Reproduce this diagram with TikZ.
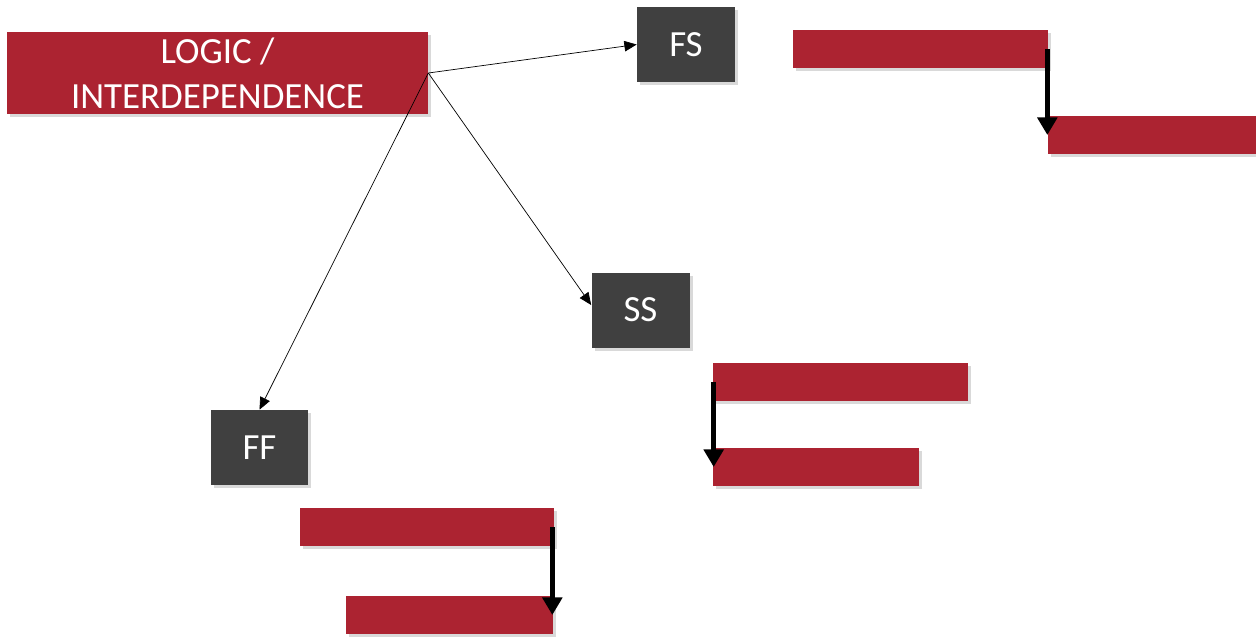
\documentclass[tikz,border=0pt]{standalone}
\usepackage{fontspec}
\setmainfont{Carlito}
\usepackage{xcolor}
\usetikzlibrary{positioning, arrows.meta, shadows}
\definecolor{LogicRed}{HTML}{AC2331}
\definecolor{BoxGray}{HTML}{404040}

\begin{document}
\begin{tikzpicture}[
            x=0.02cm, y=-0.02cm,
            shade/.style={drop shadow={opacity=0.3, shadow xshift=0.06cm, shadow yshift=-0.06cm}},
            logic/.style={fill=LogicRed, shade, text=white, minimum width=8.42cm, minimum height=1.64cm, align=center, inner sep=0pt, font=\fontsize{21}{25.5}\selectfont},
            kind/.style={fill=BoxGray, shade, text=white, minimum width=1.96cm, minimum height=1.5cm, inner sep=0pt, font=\fontsize{21}{24}\selectfont},
            bar/.style={fill=LogicRed, shade, minimum height=0.76cm, inner sep=0pt},
            link/.style={-{Triangle[length=7pt, width=6pt]}, thin},
            lag/.style={-{Triangle[length=10pt, width=11pt]}, line width=2.8pt}
        ]
            \useasboundingbox (0,0) rectangle (1256,637);

            \node[logic] (logic) at (217.5,73) {LOGIC /\\INTERDEPENDENCE};

            \node[kind] (fs) at (686,44.5) {FS};
            \node[kind] (ss) at (640.5,310) {SS};
            \node[kind] (ff) at (259.5,447.5) {FF};

            % finish to start
            \node[bar, minimum width=5.1cm] (fs1) at (920.5,49) {};
            \node[bar, minimum width=4.16cm] (fs2) at (1152,135) {};

            % start to start
            \node[bar, minimum width=5.1cm] (ss1) at (840.5,382) {};
            \node[bar, minimum width=4.12cm] (ss2) at (816,467) {};

            % finish to finish
            \node[bar, minimum width=5.08cm] (ff1) at (427,527) {};
            \node[bar, minimum width=4.14cm] (ff2) at (449.5,615) {};

            \draw[link] (logic.east) -- (fs.west);
            \draw[link] (logic.east) -- ([yshift=0.1cm]ss.west);
            \draw[link] (logic.east) -- (ff.north);

            \draw[lag] ([xshift=-0.02cm]fs1.east) -- ([xshift=-0.02cm]fs1.east |- fs2.west);
            \draw[lag] ([xshift=0.02cm]ss1.west) -- ([xshift=0.02cm]ss1.west |- ss2.west);
            \draw[lag] ([xshift=-0.04cm]ff1.east) -- ([xshift=-0.04cm]ff1.east |- ff2.east);

        \end{tikzpicture}
\end{document}
